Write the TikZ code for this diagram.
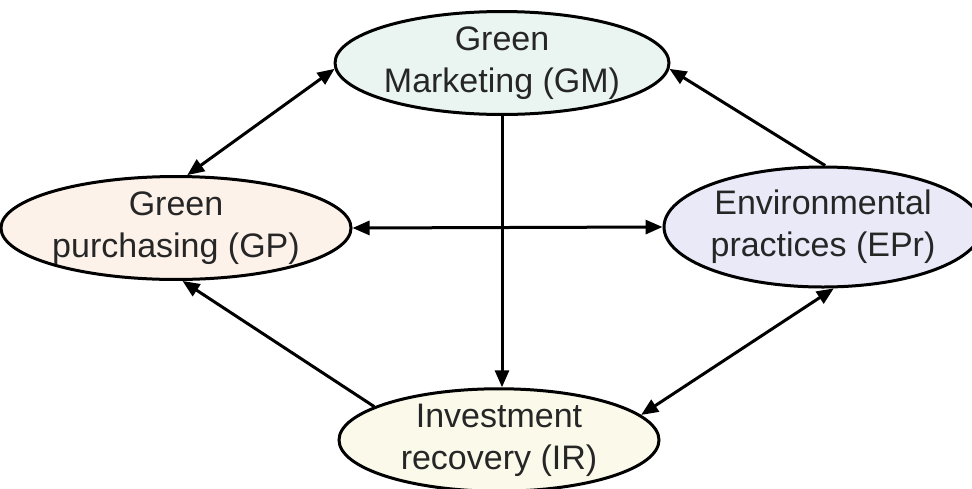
\documentclass[tikz,border=0pt]{standalone}
\usepackage{fontspec}
\setmainfont{Liberation Sans}
\usetikzlibrary{shapes.geometric,arrows.meta}
\definecolor{gmfill}{HTML}{EAF5F1}
\definecolor{gpfill}{HTML}{FDF2EA}
\definecolor{eprfill}{HTML}{E9E9F8}
\definecolor{irfill}{HTML}{FBF9EA}
\begin{document}
\begin{tikzpicture}[x=1pt,y=-1pt,
  oval/.style={ellipse,draw=black,line width=3pt,inner sep=0pt,align=center,
    font=\fontsize{34}{42}\selectfont,text=black!85},
  link/.style={line width=3pt,draw=black},
  onehead/.style={link,-{Triangle[length=17pt,width=14pt]}},
  twohead/.style={link,{Triangle[length=17pt,width=14pt]}-{Triangle[length=17pt,width=14pt]}}]
\useasboundingbox[fill=white] (0,0) rectangle (972,488);
\node[oval,fill=gmfill,minimum width=288pt,minimum height=102pt] (gm) at (502,63) {Green\\Marketing (GM)};
\node[oval,fill=gpfill,minimum width=336pt,minimum height=100pt] (gp) at (176,228) {Green\\purchasing (GP)};
\node[oval,fill=eprfill,minimum width=292pt,minimum height=120pt] (epr) at (823,227) {Environmental\\practices (EPr)};
\node[oval,fill=irfill,minimum width=320pt,minimum height=94pt] (ir) at (499,440) {Investment\\recovery (IR)};
\draw[twohead] (gp.78) -- (gm.182);
\draw[onehead] (epr.88) -- (gm.-2);
\draw[twohead] (gp.east) -- (epr.west);
\draw[onehead] (gm.south) -- (gm.south |- ir.north);
\draw[onehead] (ir.165) -- (gp.-83);
\draw[twohead] (ir.10) -- (epr.-80);
\end{tikzpicture}
\end{document}
